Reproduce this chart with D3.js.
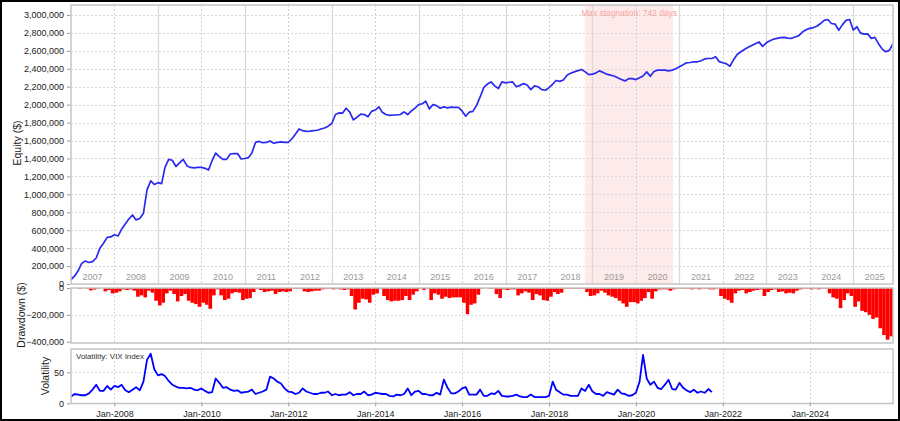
<!DOCTYPE html>
<html><head><meta charset="utf-8">
<script src="https://cdn.jsdelivr.net/npm/d3@7"></script>
<style>body{margin:0;background:#fff}svg{display:block}text{font-family:"Liberation Sans",Arial,sans-serif}</style>
</head><body><svg id="c" width="900" height="421"></svg>
<script>
// ---------- DATA ----------
const firstMonth = "2007-01";
// Equity in thousands of $, one value per month from Jan-2007 to Dec-2025
const equityK = [
  50, 90, 144, 230, 256, 240, 250, 290, 400, 455, 520, 525,
  550, 536, 610, 670, 725, 770, 715, 730, 790, 1050, 1150, 1110,
  1130, 1120, 1300, 1390, 1380, 1310, 1350, 1390, 1320, 1300, 1295, 1300,
  1300, 1290, 1270, 1375, 1460, 1420, 1390, 1390, 1450, 1455, 1455, 1394,
  1400, 1410, 1460, 1580, 1590, 1575, 1580, 1595, 1570, 1580, 1585, 1580,
  1580, 1620, 1670, 1729, 1710, 1703, 1705, 1711, 1715, 1729, 1740, 1760,
  1790, 1890, 1908, 1905, 1960, 1916, 1830, 1860, 1895, 1890, 1865, 1925,
  1940, 1975, 1916, 1890, 1880, 1885, 1885, 1890, 1920, 1890, 1930, 1960,
  2000, 2010, 2039, 1953, 2000, 1990, 1960, 1975, 1965, 1972, 1970, 1970,
  1930, 1870, 1916, 1925, 1990, 2086, 2190, 2230, 2254, 2210, 2180, 2254,
  2243, 2250, 2254, 2200, 2215, 2235, 2220, 2168, 2210, 2200, 2168, 2161,
  2190, 2230, 2270, 2260, 2275, 2329, 2350, 2366, 2380, 2392, 2366, 2335,
  2340, 2355, 2377, 2360, 2340, 2330, 2320, 2300, 2280, 2265, 2290, 2290,
  2280, 2300, 2320, 2366, 2317, 2370, 2385, 2385, 2385, 2377, 2385, 2400,
  2422, 2445, 2467, 2470, 2478, 2478, 2490, 2510, 2515, 2515, 2534, 2480,
  2467, 2455, 2429, 2500, 2560, 2590, 2615, 2640, 2660, 2680, 2700, 2650,
  2690, 2713, 2730, 2740, 2748, 2750, 2742, 2740, 2755, 2770, 2810, 2835,
  2851, 2860, 2875, 2905, 2940, 2950, 2905, 2899, 2830, 2890, 2940, 2950,
  2832, 2869, 2800, 2787, 2790, 2739, 2750, 2680, 2620, 2590, 2605, 2680
];
// Drawdown in thousands of $, one value per month
const drawdownK = [
  0, 0, -5, 0, -5, -18, -12, -5, 0, -25, -15, -40,
  -35, -25, -10, -15, -10, -20, -65, -55, -70, -20, -35, -95,
  -130, -110, -40, -20, -45, -100, -60, -45, -95, -110, -120, -140,
  -110, -125, -155, -55, -10, -55, -90, -80, -40, -30, -35, -90,
  -80, -75, -30, -5, -15, -30, -25, -20, -45, -30, -25, -30,
  -25, -5, -5, -5, -25, -30, -25, -20, -20, -10, -5, -5,
  -10, -5, -10, -15, -10, -60, -160, -110, -80, -85, -110, -50,
  -40, -5, -60, -90, -100, -95, -95, -90, -60, -90, -50, -25,
  -5, -15, -5, -90, -40, -50, -80, -65, -75, -70, -70, -70,
  -110, -195, -125, -115, -50, -5, 0, -5, -5, -45, -75, -10,
  -15, -10, -10, -55, -40, -25, -35, -90, -45, -55, -90, -95,
  -65, -30, -45, -35, -5, -5, -5, -5, -5, -5, -30, -60,
  -55, -40, -20, -35, -55, -65, -75, -95, -115, -140, -105, -105,
  -115, -95, -75, -30, -80, -25, -10, -10, -10, -20, -10, -5,
  -5, -5, -5, -10, -5, -10, -5, -5, -10, -10, -5, -60,
  -80, -90, -110, -40, -20, -15, -40, -30, -20, -15, -10, -60,
  -30, -15, -10, -30, -25, -40, -35, -40, -20, -10, -5, -5,
  -10, -5, -10, -5, -5, -40, -70, -80, -150, -90, -40, -60,
  -140, -100, -170, -180, -200, -230, -220, -300, -350, -385, -360, -320
];
// VIX index, one value per month from Jan-2007 to Oct-2021
const vixValues = [
  11, 15, 14, 13, 13, 16, 22, 30, 20, 20, 28, 22,
  28, 26, 30, 21, 18, 22, 26, 21, 35, 70, 80, 55,
  45, 47, 44, 36, 30, 27, 25, 25, 24, 25, 22, 21,
  24, 20, 17, 18, 40, 33, 25, 26, 22, 20, 21, 17,
  18, 19, 22, 15, 17, 19, 22, 43, 40, 35, 32, 24,
  19, 18, 15, 17, 24, 19, 17, 15, 15, 17, 17, 19,
  13, 15, 13, 14, 14, 18, 13, 15, 15, 19, 13, 14,
  17, 16, 15, 15, 12, 11, 14, 13, 15, 24, 13, 19,
  20, 15, 15, 13, 13, 17, 14, 38, 25, 16, 16, 19,
  24, 26, 14, 14, 14, 22, 12, 12, 16, 15, 20, 12,
  11, 11, 12, 14, 11, 10, 10, 14, 10, 10, 10, 10,
  12, 35, 22, 18, 14, 14, 12, 12, 12, 24, 20, 30,
  19, 15, 15, 12, 18, 16, 14, 22, 16, 15, 12, 13,
  17, 35, 78, 40, 30, 35, 25, 23, 30, 38, 23, 22,
  33, 25, 21, 18, 22, 17, 19, 17, 23, 18
];
const yearLabels = ["2007","2008","2009","2010","2011","2012","2013","2014","2015","2016","2017","2018","2019","2020","2021","2022","2023","2024","2025"];
const equityTicks = [0,200000,400000,600000,800000,1000000,1200000,1400000,1600000,1800000,2000000,2200000,2400000,2600000,2800000,3000000];
const drawdownTicks = [0, -200000, -400000];
const vixTicks = [0, 50];
const bottomTickLabels = ["Jan-2008","Jan-2010","Jan-2012","Jan-2014","Jan-2016","Jan-2018","Jan-2020","Jan-2022","Jan-2024"];
const stagnationStart = "2018-10-30";
const stagnationEnd = "2020-11-10";
const stagnationLabel = "Max stagnation: 742 days";
const vixLabel = "Volatility: VIX index";

// ---------- LAYOUT ----------
const svg = d3.select("#c");
const W = 900, H = 421;
const L = 71, R = 893;
const main = {top: 5, bottom: 284};
const dd = {top: 288, bottom: 343};
const vol = {top: 349, bottom: 403.5};

const parseM = d3.timeParse("%Y-%m");
const parseD = d3.timeParse("%Y-%m-%d");
const t0 = parseM(firstMonth);
const months = equityK.map((_, i) => d3.timeMonth.offset(t0, i));
const x = d3.scaleTime().domain([months[0], months[months.length - 1]]).range([L, R]);

const yE = d3.scaleLinear().domain([0, 3000000]).range([main.bottom, 15]);
const yD = d3.scaleLinear().domain([-400000, 0]).range([341.7, dd.top]);
const yV = d3.scaleLinear().domain([0, 50]).range([403.3, 372.3]);

const gridCol = "#d8d8d8", borderCol = "#c4c4c4", sepCol = "#d9d9d9";
const fontTick = 9;

svg.append("rect").attr("width", W).attr("height", H).attr("fill", "#fff");

const defs = svg.append("defs");
[["cMain", main], ["cDD", dd], ["cVol", vol]].forEach(([id, p]) => {
  defs.append("clipPath").attr("id", id).append("rect")
    .attr("x", L).attr("y", p.top).attr("width", R - L).attr("height", p.bottom - p.top);
});

// ---------- MAIN PANEL ----------
const gMain = svg.append("g");
const s0 = parseD(stagnationStart), s1 = parseD(stagnationEnd);
gMain.append("rect").attr("x", x(s0)).attr("y", main.top).attr("width", x(s1) - x(s0))
  .attr("height", main.bottom - main.top).attr("fill", "#fdeaea");
gMain.selectAll(".hg").data(equityTicks.filter(d => d > 0)).join("line")
  .attr("x1", L).attr("x2", R).attr("y1", d => Math.round(yE(d)) + 0.5).attr("y2", d => Math.round(yE(d)) + 0.5)
  .attr("stroke", gridCol).attr("stroke-dasharray", "2,2");
const yearStarts = yearLabels.map(y => new Date(+y, 0, 1));
const bottomTickDates = bottomTickLabels.map(s => new Date(+s.slice(4), 0, 1));
// solid year separators (odd years), even years get the dashed grid line
gMain.selectAll(".ys").data(yearStarts.slice(1).filter(d => d.getFullYear() % 2 === 1)).join("line")
  .attr("x1", d => Math.round(x(d)) + 0.5).attr("x2", d => Math.round(x(d)) + 0.5)
  .attr("y1", main.top).attr("y2", main.bottom)
  .attr("stroke", sepCol).attr("stroke-width", 1.3);
gMain.selectAll(".vg").data(bottomTickDates).join("line")
  .attr("x1", d => Math.round(x(d)) + 0.5).attr("x2", d => Math.round(x(d)) + 0.5)
  .attr("y1", main.top).attr("y2", main.bottom - 1).attr("stroke", "#cfcfcf").attr("stroke-dasharray", "2,2");
gMain.selectAll(".yl").data(yearStarts).join("text")
  .attr("x", d => x(new Date(d.getFullYear(), 6, 1)))
  .attr("y", 280).attr("text-anchor", "middle").attr("font-size", fontTick).attr("fill", "#999")
  .text((d, i) => yearLabels[i]);
gMain.append("text").attr("x", (x(s0) + x(s1)) / 2).attr("y", 16).attr("text-anchor", "middle")
  .attr("font-size", 8.4).attr("fill", "#f4a6a6").text(stagnationLabel);
gMain.append("path").datum(equityK).attr("clip-path", "url(#cMain)")
  .attr("fill", "none").attr("stroke", "#2a2af0").attr("stroke-width", 1.7).attr("stroke-linejoin", "round")
  .attr("d", d3.line().x((d, i) => x(months[i])).y(d => yE(d * 1000)));
gMain.append("rect").attr("x", L).attr("y", main.top).attr("width", R - L).attr("height", main.bottom - main.top)
  .attr("fill", "none").attr("stroke", borderCol).attr("stroke-width", 1.5);
const axE = svg.append("g").attr("transform", `translate(${L - 1},0)`)
  .call(d3.axisLeft(yE).tickValues(equityTicks).tickFormat(d3.format(",")).tickSize(3).tickPadding(3));
axE.select(".domain").remove();

// ---------- DRAWDOWN PANEL ----------
const gDD = svg.append("g");
gDD.append("line").attr("x1", L).attr("x2", R).attr("y1", Math.round(yD(-200000)) + 0.5).attr("y2", Math.round(yD(-200000)) + 0.5)
  .attr("stroke", gridCol).attr("stroke-dasharray", "2,2");
gDD.selectAll(".vg").data(bottomTickDates).join("line")
  .attr("x1", d => Math.round(x(d)) + 0.5).attr("x2", d => Math.round(x(d)) + 0.5)
  .attr("y1", dd.top).attr("y2", dd.bottom).attr("stroke", gridCol).attr("stroke-dasharray", "2,2");
gDD.append("g").attr("clip-path", "url(#cDD)").selectAll("rect").data(drawdownK).join("rect")
  .attr("x", (d, i) => x(months[i]))
  .attr("width", (d, i) => Math.max(1, x(d3.timeMonth.offset(months[i], 1)) - x(months[i])))
  .attr("y", yD(0)).attr("height", d => yD(d * 1000) - yD(0))
  .attr("fill", "#ff0000");
gDD.append("rect").attr("x", L).attr("y", dd.top).attr("width", R - L).attr("height", dd.bottom - dd.top)
  .attr("fill", "none").attr("stroke", borderCol).attr("stroke-width", 1.5);
const axD = svg.append("g").attr("transform", `translate(${L - 1},0)`)
  .call(d3.axisLeft(yD).tickValues(drawdownTicks).tickFormat(d3.format(",")).tickSize(3).tickPadding(3));
axD.select(".domain").remove();

// ---------- VOLATILITY PANEL ----------
const gV = svg.append("g");
gV.append("line").attr("x1", L).attr("x2", R).attr("y1", Math.round(yV(50)) + 0.5).attr("y2", Math.round(yV(50)) + 0.5)
  .attr("stroke", gridCol).attr("stroke-dasharray", "2,2");
gV.selectAll(".vg").data(bottomTickDates).join("line")
  .attr("x1", d => Math.round(x(d)) + 0.5).attr("x2", d => Math.round(x(d)) + 0.5)
  .attr("y1", vol.top).attr("y2", vol.bottom).attr("stroke", gridCol).attr("stroke-dasharray", "2,2");
gV.append("path").datum(vixValues).attr("clip-path", "url(#cVol)")
  .attr("fill", "none").attr("stroke", "#0000ff").attr("stroke-width", 1.8).attr("stroke-linejoin", "round")
  .attr("d", d3.line().x((d, i) => x(months[i])).y(d => yV(d)));
gV.append("text").attr("x", 76).attr("y", 359).attr("font-size", 8).attr("fill", "#333").text(vixLabel);
gV.append("rect").attr("x", L).attr("y", vol.top).attr("width", R - L).attr("height", vol.bottom - vol.top)
  .attr("fill", "none").attr("stroke", borderCol).attr("stroke-width", 1.5);
const axV = svg.append("g").attr("transform", `translate(${L - 1},0)`)
  .call(d3.axisLeft(yV).tickValues(vixTicks).tickSize(3).tickPadding(3));
axV.select(".domain").remove();

// bottom axis
const axB = svg.append("g").attr("transform", `translate(0,${vol.bottom})`)
  .call(d3.axisBottom(x).tickValues(bottomTickDates).tickFormat((d, i) => bottomTickLabels[i]).tickSize(3).tickPadding(4));
axB.select(".domain").remove();

svg.selectAll(".tick text").attr("font-size", fontTick).attr("fill", "#222").attr("font-family", '"Liberation Sans",Arial,sans-serif');
svg.selectAll(".tick line").attr("stroke", "#999");

const title = (txt, cx, cy) => svg.append("text").attr("transform", `translate(${cx},${cy}) rotate(-90)`)
  .attr("text-anchor", "middle").attr("font-size", 10.5).attr("fill", "#222").text(txt);
title("Equity ($)", 21, 143);
title("Drawdown ($)", 25, 315);
title("Volatility", 49, 376);

svg.append("rect").attr("x", 1).attr("y", 1).attr("width", W - 2).attr("height", H - 2)
  .attr("fill", "none").attr("stroke", "#000").attr("stroke-width", 2);
</script></body></html>
